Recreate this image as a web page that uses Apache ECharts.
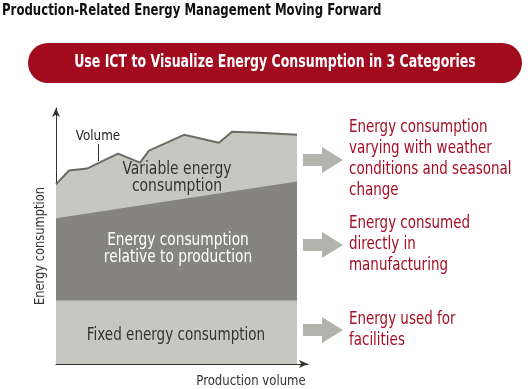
<!DOCTYPE html>
<html>
<head>
<meta charset="utf-8">
<script src="https://cdn.jsdelivr.net/npm/echarts@6/dist/echarts.min.js"></script>
<style>html,body{margin:0;padding:0;background:#fff}#c{width:532px;height:389px}</style>
</head>
<body>
<div id="c"></div>
<script>
// Production volume positions and energy values
const volumeX = [0, 13, 31, 62, 84, 93, 128, 163, 176, 204, 241];
const volumeTotal = [181, 195, 197, 212, 203, 215, 231, 223, 234, 233, 231];
const relativeX = [0, 241];
const relativeTop = [147, 184];
const fixedX = [0, 241];
const fixedTop = [64, 64];

const title = 'Production-Related Energy Management Moving Forward';
const banner = 'Use ICT to Visualize Energy Consumption in 3 Categories';
const notes = [
  'Energy consumption\nvarying with weather\nconditions and seasonal\nchange',
  'Energy consumed\ndirectly in\nmanufacturing',
  'Energy used for\nfacilities'
];

const FONT = '"DejaVu Sans Condensed", "DejaVu Sans", sans-serif';
const RED = '#a50d24';
const ARROW = '#b2b3ad';

const pair = (xs, ys) => xs.map((x, i) => [x, ys[i]]);

const chart = echarts.init(document.getElementById('c'), null, {renderer: 'canvas'});

function arrow(cy) {
  return {
    type: 'polygon',
    shape: {points: [[303, cy - 6], [322, cy - 6], [322, cy - 13], [343, cy], [322, cy + 13], [322, cy + 6], [303, cy + 6]]},
    style: {fill: ARROW}
  };
}

function txt(x, y, text, font, fill, k, extra) {
  return Object.assign({
    type: 'text', x: x, y: y, scaleX: k, z: 10,
    style: Object.assign({text: text, font: font, fill: fill, align: 'center', verticalAlign: 'middle'}, extra && extra.style || {})
  }, extra && extra.el || {});
}

chart.setOption({
  animation: false,
  grid: {left: 56, right: 224, top: 108, bottom: 25},
  xAxis: {
    type: 'value', min: 0, max: 252,
    axisLine: {show: true, symbol: ['none', 'arrow'], symbolSize: [6, 9], lineStyle: {color: '#333', width: 1}},
    axisTick: {show: false}, axisLabel: {show: false}, splitLine: {show: false}
  },
  yAxis: {
    type: 'value', min: 0, max: 258,
    axisLine: {show: true, symbol: ['none', 'arrow'], symbolSize: [6, 9], lineStyle: {color: '#333', width: 1}},
    axisTick: {show: false}, axisLabel: {show: false}, splitLine: {show: false}
  },
  series: [
    {
      name: 'Variable energy consumption', type: 'line', data: pair(volumeX, volumeTotal),
      showSymbol: false, z: 1,
      lineStyle: {color: '#6b6b66', width: 2},
      areaStyle: {color: '#c7c7c1', opacity: 1}
    },
    {
      name: 'Energy consumption relative to production', type: 'line', data: pair(relativeX, relativeTop),
      showSymbol: false, z: 2,
      lineStyle: {width: 0},
      areaStyle: {color: '#85857e', opacity: 1}
    },
    {
      name: 'Fixed energy consumption', type: 'line', data: pair(fixedX, fixedTop),
      showSymbol: false, z: 3,
      lineStyle: {width: 0},
      areaStyle: {color: '#c7c7c1', opacity: 1}
    }
  ],
  graphic: [
    txt(2, 11, title, 'bold 15px ' + FONT, '#111', 0.87, {style: {align: 'left'}}),
    {type: 'rect', shape: {x: 28, y: 43, width: 494, height: 40, r: 20}, style: {fill: '#a20a1e'}},
    txt(275, 63, banner, 'bold 17px ' + FONT, '#fff', 0.82),
    txt(177, 178, 'Variable energy\nconsumption', '17px ' + FONT, '#333', 0.91, {style: {lineHeight: 17}}),
    txt(178, 249, 'Energy consumption\nrelative to production', '17px ' + FONT, '#fff', 0.9, {style: {lineHeight: 17}}),
    txt(176, 336, 'Fixed energy consumption', '17px ' + FONT, '#333', 0.885),
    txt(98, 136, 'Volume', '14px ' + FONT, '#222', 0.95),
    {type: 'line', z: 10, shape: {x1: 98.5, y1: 144, x2: 98.5, y2: 161}, style: {stroke: '#333', lineWidth: 1}},
    txt(40, 246, 'Energy consumption', '14px ' + FONT, '#333', 0.91, {el: {rotation: Math.PI / 2}}),
    txt(251, 381, 'Production volume', '14px ' + FONT, '#333', 0.93),
    arrow(160), arrow(245), arrow(330),
    txt(349, 117, notes[0], '17px ' + FONT, RED, 0.88, {style: {align: 'left', verticalAlign: 'top', lineHeight: 21}}),
    txt(349, 213, notes[1], '17px ' + FONT, RED, 0.88, {style: {align: 'left', verticalAlign: 'top', lineHeight: 21}}),
    txt(349, 309, notes[2], '17px ' + FONT, RED, 0.88, {style: {align: 'left', verticalAlign: 'top', lineHeight: 21}})
  ]
});
</script>
</body>
</html>
